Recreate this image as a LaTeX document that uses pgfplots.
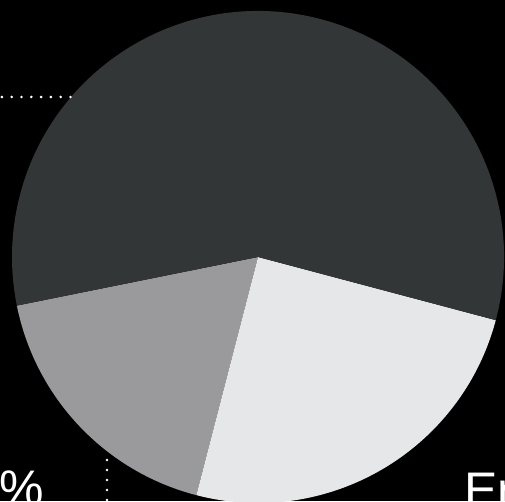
\documentclass[border=0pt]{standalone}
\usepackage{pgfplots}
\pgfplotsset{compat=1.18}
\usepackage{pgfplotstable}
\usepackage{fontspec}
\setmainfont{Liberation Sans}
\definecolor{sliceDark}{HTML}{333637}
\definecolor{sliceMid}{HTML}{9A999C}
\definecolor{sliceLight}{HTML}{E6E7E8}

% pie shares (percent), counter-clockwise from the start angle
\pgfplotstableread{
label value
B 17.8
C 24.9
A 57.3
}\piedata
\pgfplotstablegetelem{0}{value}\of\piedata \let\vB\pgfplotsretval
\pgfplotstablegetelem{1}{value}\of\piedata \let\vC\pgfplotsretval
\pgfplotstablegetelem{2}{value}\of\piedata \let\vA\pgfplotsretval
\pgfmathsetmacro\aS{191.4}
\pgfmathsetmacro\aB{\aS+3.6*\vB}
\pgfmathsetmacro\aC{\aB+3.6*\vC}
\pgfmathsetmacro\aA{\aC+3.6*\vA}
\def\R{246pt}

\begin{document}
\begin{tikzpicture}
\begin{axis}[name=ax, x=1pt, y=1pt, scale only axis,
  xmin=0, xmax=505, ymin=0, ymax=501, hide axis, clip=true]
\fill[black] (axis cs:0,0) rectangle (axis cs:505,501);
% wedges
\fill[sliceMid] (axis cs:258,244) -- ++(\aS:\R) arc[start angle=\aS, end angle=\aB, radius=\R] -- cycle;
\fill[sliceLight] (axis cs:258,244) -- ++(\aB:\R) arc[start angle=\aB, end angle=\aC, radius=\R] -- cycle;
\fill[sliceDark] (axis cs:258,244) -- ++(\aC:\R) arc[start angle=\aC, end angle=\aA, radius=\R] -- cycle;
% leader lines
\draw[white, line width=2.9pt, line cap=round, dash pattern=on 0pt off 9.8pt]
  (axis cs:70.5,404) -- (axis cs:-5,404);
\draw[white, line width=2.9pt, line cap=round, dash pattern=on 0pt off 10pt]
  (axis cs:107,41) -- (axis cs:107,-10);
% labels (cut by the frame, as in the reference)
\node[white, anchor=base east, font=\fontsize{50}{60}\selectfont, inner sep=0pt] at (axis cs:44,-4) {18\%};
\node[white, anchor=base west, font=\fontsize{50}{60}\selectfont, inner sep=0pt] at (axis cs:464,-6) {English};
\end{axis}
\pgfresetboundingbox
\path[use as bounding box] (ax.south west) rectangle (ax.north east);
\end{tikzpicture}
\end{document}
